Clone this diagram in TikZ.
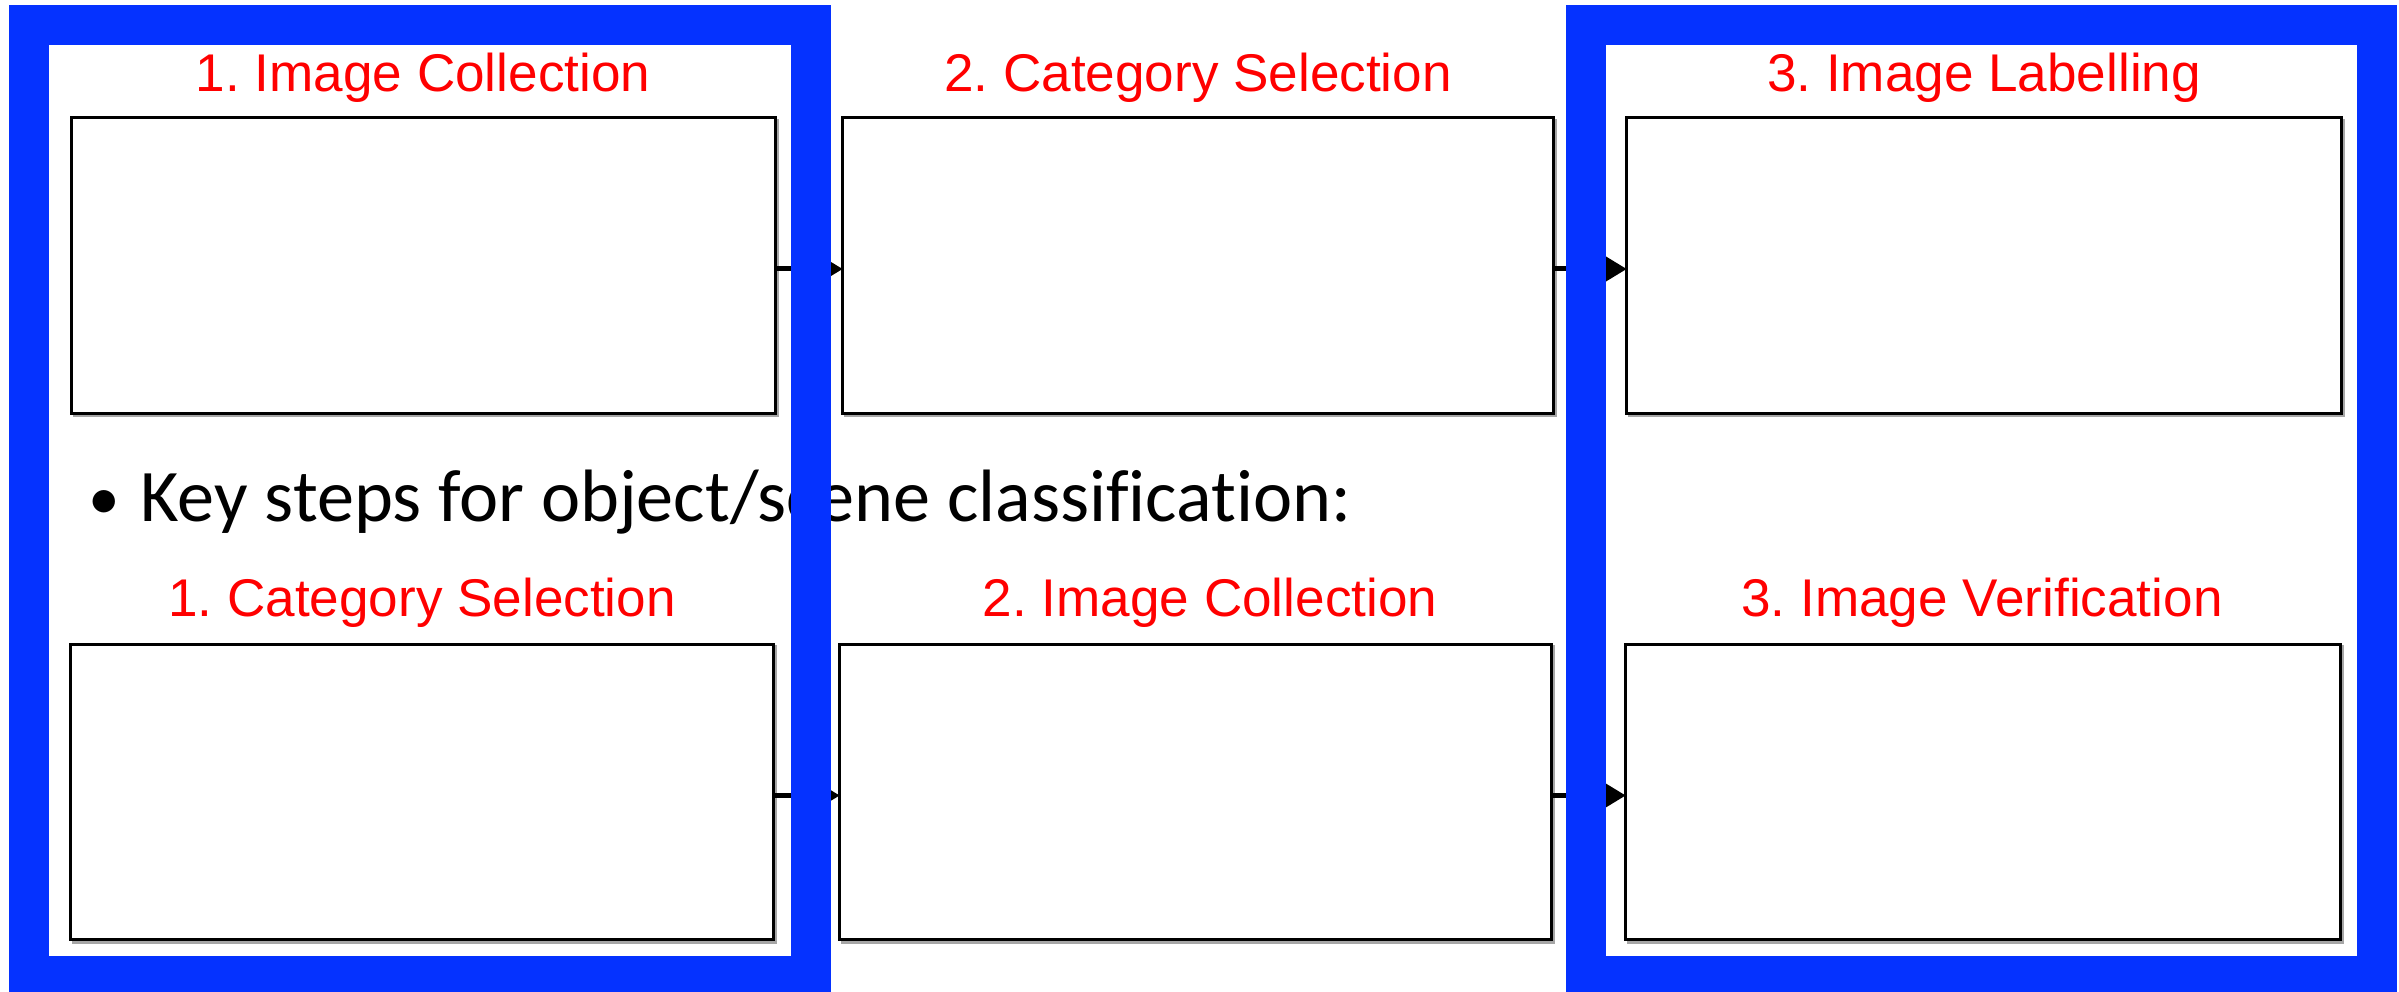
\documentclass[tikz,border=0pt]{standalone}
\usepackage{fontspec}
\setmainfont{Liberation Sans}
\newfontfamily\bodyfont[Ligatures=NoCommon]{Carlito}
\usetikzlibrary{arrows.meta}
\definecolor{frameblue}{RGB}{5,50,255}
\definecolor{labelred}{RGB}{255,0,0}
\frenchspacing
\begin{document}
\begin{tikzpicture}[x=0.01cm,y=-0.01cm,
  stage/.style={draw=black, line width=0.03cm, fill=white, inner sep=0pt, outer sep=0pt,
    minimum height=2.95cm,
    preaction={draw=black!35, line width=0.03cm,
      transform canvas={shift={(0.025cm,-0.025cm)}}}},
  stagelabel/.style={text=labelred, inner sep=0pt, anchor=base,
    font=\fontsize{15.1pt}{18pt}\selectfont},
  bodytext/.style={text=black, inner sep=0pt,
    font=\bodyfont\fontsize{21.1pt}{25pt}\selectfont},
  flow/.style={draw=black, line width=0.05cm,
    -{Triangle[length=0.22cm,width=0.25cm]}},
  hilite/.style={draw=frameblue, line width=0.4cm}]
  \clip (0,0) rectangle (2399,992);
  \fill[white] (0,0) rectangle (2399,992);

  % top pipeline: object detection
  \node[stage, minimum width=7.03cm] (b1) at (423.5,265.5) {};
  \node[stage, minimum width=7.10cm] (b2) at (1198,265.5) {};
  \node[stage, minimum width=7.14cm] (b3) at (1984,265.5) {};

  % bottom pipeline: object/scene classification
  \node[stage, minimum width=7.02cm] (c1) at (422,792) {};
  \node[stage, minimum width=7.11cm] (c2) at (1195.5,792) {};
  \node[stage, minimum width=7.14cm] (c3) at (1983,792) {};

  \draw[flow] ([yshift=-0.035cm]b1.east) -- ([yshift=-0.035cm]b2.west);
  \draw[flow] ([yshift=-0.035cm]b2.east) -- ([yshift=-0.035cm]b3.west);
  \draw[flow] ([yshift=-0.035cm]c1.east) -- ([yshift=-0.035cm]c2.west);
  \draw[flow] ([yshift=-0.035cm]c2.east) -- ([yshift=-0.035cm]c3.west);

  \node[stagelabel] (lb1) at (423,92) {1. Image Collection};
  \node[stagelabel] (lb2) at (1198,92) {2. Category Selection};
  \node[stagelabel] (lb3) at (1984,92) {3. Image Labelling};
  \node[stagelabel] (lc1) at (422,617) {1. Category Selection};
  \node[stagelabel] (lc2) at (1210,617) {2. Image Collection};
  \node[stagelabel] (lc3) at (1982,617) {3. Image Verification};

  \node[bodytext, anchor=base, font=\bodyfont\fontsize{18pt}{22pt}\selectfont] (dot) at (104.5,520) {•};
  \node[bodytext, anchor=base west] (title) at (140,522) {Key steps for object/scene classification:};

  % highlighted columns
  \draw[hilite] (28.6,25) rectangle (811,976);
  \draw[hilite] (1586,25) rectangle (2377,976);
\end{tikzpicture}
\end{document}
